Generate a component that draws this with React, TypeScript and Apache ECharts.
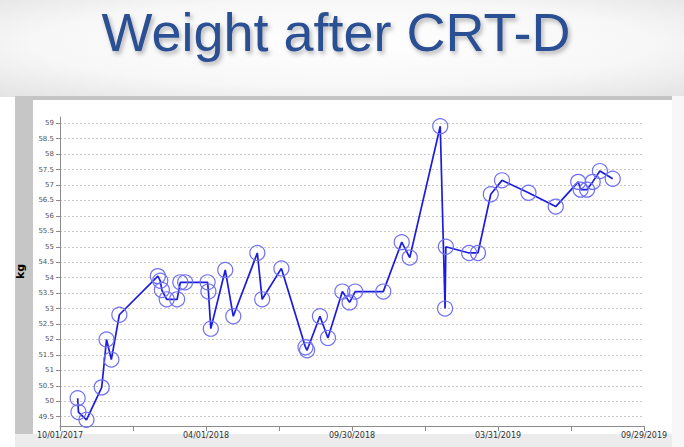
import React, { useEffect, useRef } from 'react';
import * as echarts from 'echarts';

const titleText = 'Weight after CRT-D';
const yAxisName = 'kg';

const dates = [
  '2017-10-23', '2017-10-24', '2017-11-03', '2017-11-22', '2017-11-28', '2017-12-04', '2017-12-14',
  '2018-01-31', '2018-02-03', '2018-02-05', '2018-02-11', '2018-02-24', '2018-02-28', '2018-03-06',
  '2018-04-03', '2018-04-04', '2018-04-07', '2018-04-25', '2018-05-05', '2018-06-04', '2018-06-10',
  '2018-07-04', '2018-08-03', '2018-08-05', '2018-08-21', '2018-08-31', '2018-09-18', '2018-09-27',
  '2018-10-04', '2018-11-08', '2018-12-01', '2018-12-11', '2019-01-18', '2019-01-24', '2019-01-25',
  '2019-02-23', '2019-03-06', '2019-03-22', '2019-04-05', '2019-05-08', '2019-06-11', '2019-07-09',
  '2019-07-12', '2019-07-20', '2019-07-27', '2019-08-05', '2019-08-21',
];
const weights = [
  50.1, 49.65, 49.4, 50.45, 52.0, 51.35, 52.8,
  54.05, 53.9, 53.6, 53.3, 53.3, 53.85, 53.85,
  53.85, 53.55, 52.35, 54.25, 52.75, 54.8, 53.3,
  54.3, 51.75, 51.65, 52.75, 52.05, 53.55, 53.2,
  53.55, 53.55, 55.15, 54.65, 58.9, 53.0, 55.0,
  54.8, 54.8, 56.7, 57.15, 56.75, 56.3, 57.1,
  56.85, 56.85, 57.1, 57.45, 57.2,
];
const yTicks = [49.5, 50, 50.5, 51, 51.5, 52, 52.5, 53, 53.5, 54, 54.5, 55, 55.5, 56, 56.5, 57, 57.5, 58, 58.5, 59];
const xLabelDates = ['2017-10-01', '2018-04-01', '2018-09-30', '2019-03-31', '2019-09-29'];

const DAY = 86400000;
const parse = (s: string) => {
  const [y, m, d] = s.split('-').map(Number);
  return Date.UTC(y, m - 1, d);
};
const ORIGIN = parse(xLabelDates[0]);
const toDay = (s: string) => Math.round((parse(s) - ORIGIN) / DAY);
const labelDays = xLabelDates.map(toDay);
const fmt = (day: number) => {
  const d = new Date(ORIGIN + day * DAY);
  const mm = String(d.getUTCMonth() + 1).padStart(2, '0');
  const dd = String(d.getUTCDate()).padStart(2, '0');
  return `${mm}/${dd}/${d.getUTCFullYear()}`;
};

export default function App() {
  const ref = useRef<HTMLDivElement>(null);
  useEffect(() => {
    document.body.style.margin = '0';
    const chart = echarts.init(ref.current!, null, { renderer: 'svg' });
    const seriesData = dates.map((d, i) => [toDay(d), weights[i]]);
    const xMax = labelDays[labelDays.length - 1];
    const xStep = labelDays[1] / 2;
    chart.setOption({
      animation: false,
      backgroundColor: '#ffffff',
      graphic: [
        {
          type: 'rect', z: -10, silent: true,
          shape: { x: 0, y: 0, width: 684, height: 97 },
          style: {
            fill: {
              type: 'radial', x: 0.5, y: 0.45, r: 0.75,
              colorStops: [
                { offset: 0, color: '#ffffff' },
                { offset: 0.6, color: '#f7f7f7' },
                { offset: 1, color: '#e2e2e2' },
              ],
            },
          },
        },
        { type: 'rect', z: -9, silent: true, shape: { x: 15, y: 96, width: 657, height: 4 }, style: { fill: '#c4c4c4' } },
        { type: 'rect', z: -9, silent: true, shape: { x: 15, y: 96, width: 18, height: 338 }, style: { fill: '#c6c6c6' } },
        { type: 'rect', z: -9, silent: true, shape: { x: 15, y: 434, width: 657, height: 13 }, style: { fill: '#ececec' } },
        { type: 'rect', z: -9, silent: true, shape: { x: 672, y: 96, width: 12, height: 351 }, style: { fill: '#f7f7f7' } },
        {
          type: 'text', z: 10,
          x: 336, y: 32,
          style: {
            text: titleText,
            fontFamily: 'Liberation Sans',
            fontSize: 54,
            fill: '#2c4f93',
            align: 'center',
            verticalAlign: 'middle',
            textShadowColor: 'rgba(0,0,0,0.28)',
            textShadowBlur: 4,
            textShadowOffsetX: 2,
            textShadowOffsetY: 3,
          },
        },
      ],
      grid: { left: 60, right: 40, top: 117, bottom: 21 },
      xAxis: {
        type: 'value',
        min: 0,
        max: xMax,
        interval: xStep,
        axisLine: { show: true, lineStyle: { color: '#8c8c8c', width: 1 } },
        axisTick: { show: true, length: 5, lineStyle: { color: '#8c8c8c' } },
        splitLine: { show: false },
        axisLabel: {
          show: true,
          margin: 5,
          fontSize: 8,
          fontFamily: 'DejaVu Sans',
          color: '#333333',
          showMinLabel: true,
          showMaxLabel: true,
          formatter: (v: number) => (labelDays.includes(Math.round(v)) ? fmt(Math.round(v)) : ''),
        },
      },
      yAxis: {
        type: 'value',
        min: 49.2,
        max: 59.2,
        name: yAxisName,
        nameLocation: 'middle',
        nameRotate: 90,
        nameGap: 34,
        nameTextStyle: { fontWeight: 'bold', fontSize: 11, color: '#000000', fontFamily: 'DejaVu Sans' },
        axisLine: { show: true, lineStyle: { color: '#8c8c8c', width: 1 } },
        axisTick: { show: true, length: 4, customValues: yTicks, lineStyle: { color: '#8c8c8c' } },
        axisLabel: {
          show: true,
          customValues: yTicks,
          margin: 6,
          fontSize: 7,
          fontFamily: 'DejaVu Sans',
          color: '#555555',
          formatter: (v: number) => String(v),
        },
        splitLine: { show: true, lineStyle: { color: '#c8c8c8', width: 1, type: [2, 2] } },
      },
      series: [
        {
          type: 'line',
          data: seriesData,
          symbol: 'circle',
          symbolSize: 15,
          showAllSymbol: true,
          lineStyle: { color: '#1c1ce0', width: 1.7 },
          itemStyle: { color: 'rgba(0,0,0,0)', borderColor: '#7070f5', borderWidth: 1.2 },
          emphasis: { disabled: true },
        },
      ],
    });
    return () => chart.dispose();
  }, []);
  return <div ref={ref} style={{ width: 684, height: 447 }} />;
}
